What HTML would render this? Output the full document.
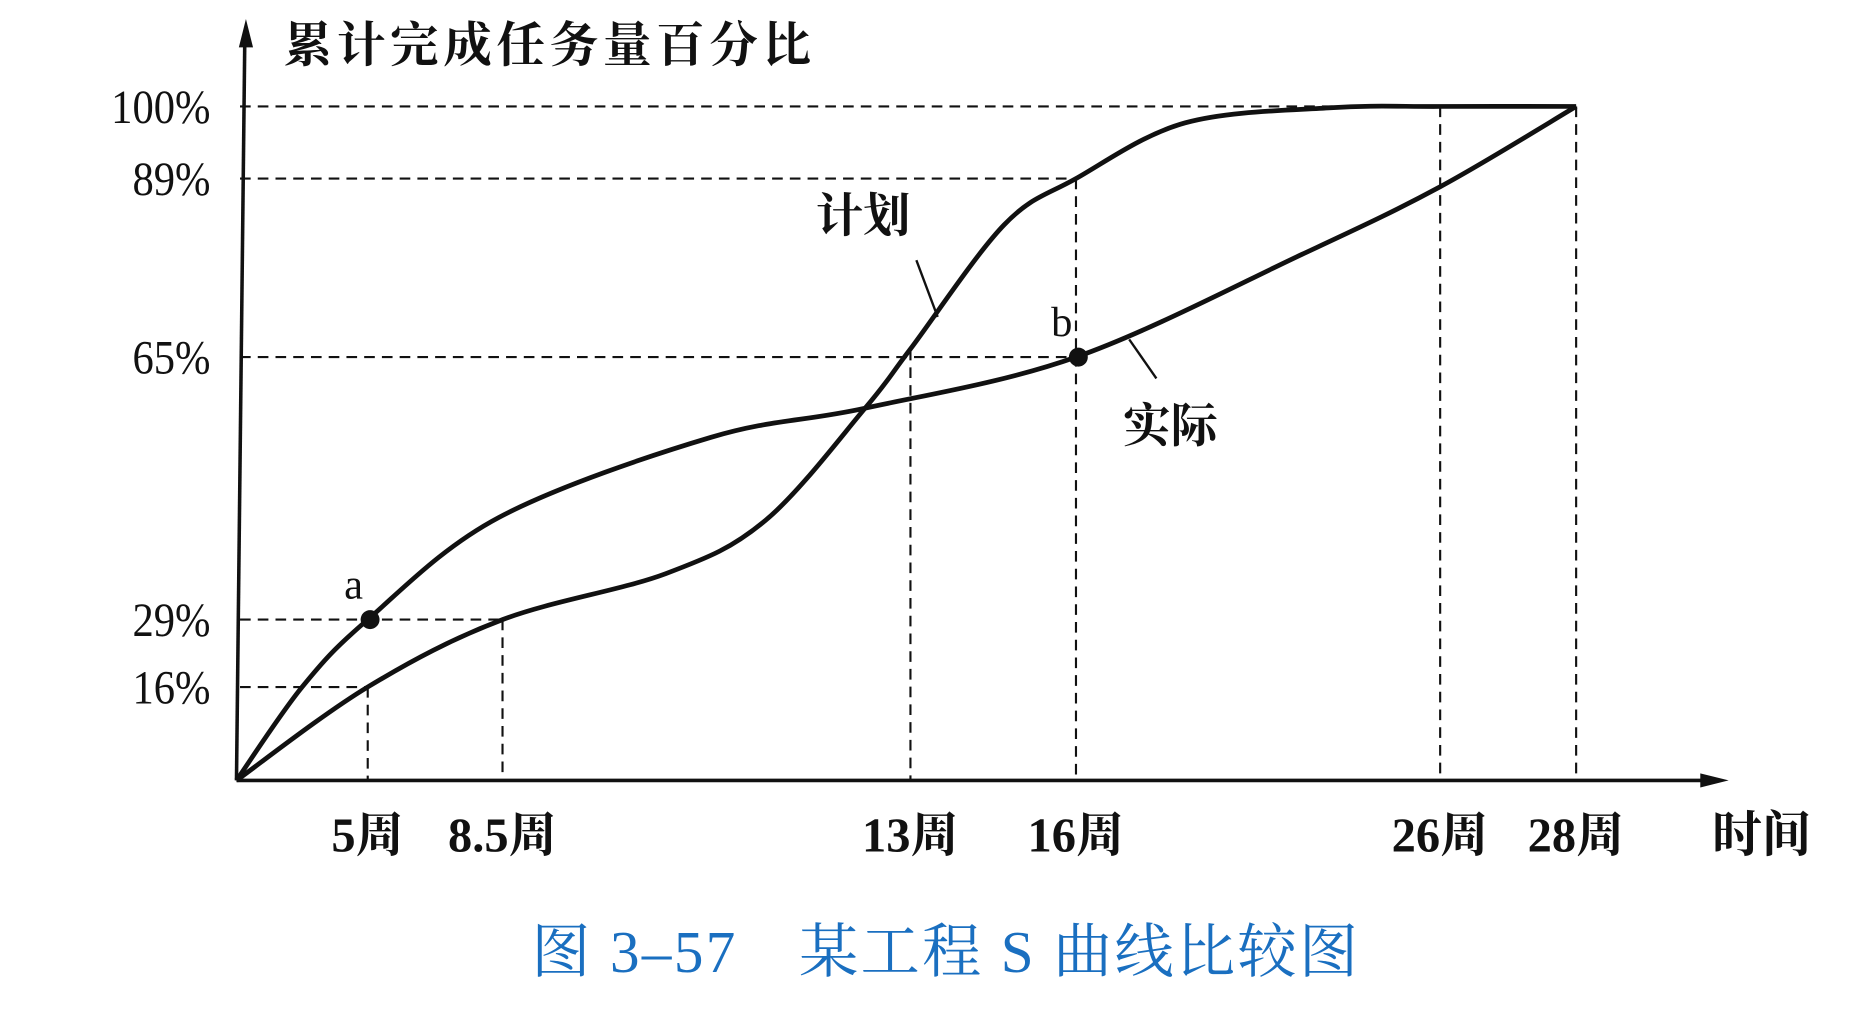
<!DOCTYPE html>
<html><head><meta charset="utf-8">
<style>
html,body{margin:0;padding:0;background:#fff;}
svg{display:block;}
.t{font-family:"Liberation Serif","Noto Serif CJK SC",serif;fill:#111;}
.c{font-family:"Liberation Serif","Noto Serif CJK SC","Noto Sans CJK SC",serif;fill:#111;font-weight:bold;}
</style></head>
<body>
<svg id="chart" width="1854" height="1020" viewBox="0 0 1568 862.6" xmlns="http://www.w3.org/2000/svg">
<rect width="1568" height="862.6" fill="#fff"/>
<g id="g"></g>
</svg>
<script>
// axis anchors (week / percent values shown on axes)
const xTickWeeks = [5, 8.5, 13, 16, 26, 28];
const xTickLabels = ["5周", "8.5周", "13周", "16周", "26周", "28周"];
const yTickValues = [16, 29, 65, 89, 100];
const yTickLabels = ["16%", "29%", "65%", "89%", "100%"];
// series (weeks, percent)
const planWeeks = [0, 5, 8.5, 10.3, 11.4, 12.5, 13, 14.7, 16, 19, 23, 26, 28];
const planPct   = [0, 16, 29, 35.3, 42.6, 58, 66.1, 82.8, 89, 97.5, 99.8, 100, 100];
const actualWeeks = [0, 2.5, 5, 8.4, 10.8, 12.5, 16, 22.2, 26, 28];
const actualPct   = [0, 16, 29, 43, 54, 58, 65, 78.8, 87.9, 100];
// highlighted points
const markWeeks = [5, 16];
const markPct = [29, 65];
const markNames = ["a", "b"];

// non-uniform schematic axis scales (piecewise linear)
const xDom = [0, 5, 8.5, 13, 16, 26, 28], xRng = [200, 311, 425, 770, 910, 1218, 1333];
const yDom = [0, 16, 29, 65, 89, 100], yRng = [660, 581, 524, 302, 151, 90];
function pw(v, d, r) {
  if (v <= d[0]) return r[0] + (v - d[0]) * (r[1] - r[0]) / (d[1] - d[0]);
  for (let i = 1; i < d.length; i++) {
    if (v <= d[i]) return r[i-1] + (v - d[i-1]) * (r[i] - r[i-1]) / (d[i] - d[i-1]);
  }
  const n = d.length - 1;
  return r[n] + (v - d[n]) * (r[n] - r[n-1]) / (d[n] - d[n-1]);
}
const xScale = v => pw(v, xDom, xRng);
const yScale = v => pw(v, yDom, yRng);

const NS = "http://www.w3.org/2000/svg";
const g = document.getElementById("g");
function mk(tag, attrs, parent) {
  const e = document.createElementNS(NS, tag);
  for (const k in attrs) e.setAttribute(k, attrs[k]);
  (parent || g).appendChild(e);
  return e;
}
function txt(s, x, y, cls, size, anchor, name, extra) {
  const e = mk("text", Object.assign({x: x, y: y, class: cls, "font-size": size, "text-anchor": anchor || "middle"}, extra || {}));
  e.textContent = s;
  
  
  return e;
}
const dash = {stroke: "#111", "stroke-width": 1.8, "stroke-dasharray": "9 6", fill: "none"};
const x0 = xScale(0), y0 = yScale(0);

// horizontal guides
const hGuideEnds = [5, 8.5, 16, 16, 28];
yTickValues.forEach((v, i) => {
  const y = yScale(v);
  const l = mk("line", Object.assign({x1: x0 + 3, y1: y, x2: xScale(hGuideEnds[i]), y2: y}, dash));
  
  
  txt(yTickLabels[i], 178, y + 14, "t", 40, "end", "y-tick-" + yTickLabels[i].replace('%', 'pct'), {transform: "translate(" + (178 * 0.1) + ",0) scale(0.9,1)"});
});
// vertical guides
const vGuideTops = [16, 29, 66, 89, 100, 100];
xTickWeeks.forEach((w, i) => {
  const x = xScale(w);
  const l = mk("line", Object.assign({x1: x, y1: yScale(vGuideTops[i]), x2: x, y2: y0}, dash));
  
  
  txt(xTickLabels[i], x, 720, "c", 41, "middle", "x-tick-week-" + w);
});

// axes
let e = mk("line", {x1: x0, y1: y0, x2: 1445, y2: y0, stroke: "#111", "stroke-width": 3});
 
e = mk("path", {d: "M1462 " + y0 + " L1438 " + (y0 - 6) + " L1438 " + (y0 + 6) + " Z", fill: "#111"});
 
e = mk("line", {x1: x0, y1: y0, x2: 207, y2: 36, stroke: "#111", "stroke-width": 3});
 
e = mk("path", {d: "M208 16 L202 40 L214 40 Z", fill: "#111"});
 

// curves
function smoothPath(ws, ps) {
  const pts = ws.map((w, i) => [xScale(w), yScale(ps[i])]);
  let d = "M" + pts[0][0] + " " + pts[0][1];
  for (let i = 0; i < pts.length - 1; i++) {
    const p0 = pts[Math.max(0, i - 1)], p1 = pts[i], p2 = pts[i + 1], p3 = pts[Math.min(pts.length - 1, i + 2)];
    const c1 = [p1[0] + (p2[0] - p0[0]) / 6, p1[1] + (p2[1] - p0[1]) / 6];
    const c2 = [p2[0] - (p3[0] - p1[0]) / 6, p2[1] - (p3[1] - p1[1]) / 6];
    d += " C" + c1[0] + " " + c1[1] + " " + c2[0] + " " + c2[1] + " " + p2[0] + " " + p2[1];
  }
  return d;
}
e = mk("path", {d: smoothPath(planWeeks, planPct), stroke: "#111", "stroke-width": 4, fill: "none", "stroke-linejoin": "round"});
 
e = mk("path", {d: smoothPath(actualWeeks, actualPct), stroke: "#111", "stroke-width": 4, fill: "none", "stroke-linejoin": "round"});
 

// marks
markWeeks.forEach((w, i) => {
  const c = mk("circle", {cx: xScale(w) + 2, cy: yScale(markPct[i]), r: 8, fill: "#111"});
  
  
  txt(markNames[i], xScale(w) - 12, yScale(markPct[i]) - 18, "t", 36, "middle", "point-label-" + markNames[i]);
});

// leader lines & series labels
e = mk("line", {x1: 775, y1: 220, x2: 793, y2: 268, stroke: "#111", "stroke-width": 2});
 
e = mk("line", {x1: 955, y1: 287, x2: 978, y2: 320, stroke: "#111", "stroke-width": 2});
 
txt("计划", 730, 196, "c", 40, "middle", "plan-label");
txt("实际", 990, 374, "c", 40, "middle", "actual-label");
txt("时间", 1490, 720, "c", 42, "middle", "x-axis-title");
txt("累计完成任务量百分比", 240, 52, "c", 41, "start", "y-axis-title", {"letter-spacing": "4"});
const cap = txt("图 3–57　某工程 S 曲线比较图", 800, 822, "t", 50, "middle", "figure-caption", {"letter-spacing": "2"});
cap.setAttribute("fill", "#1a6fc0"); cap.style.fill = "#1a6fc0";
</script>
</body></html>
